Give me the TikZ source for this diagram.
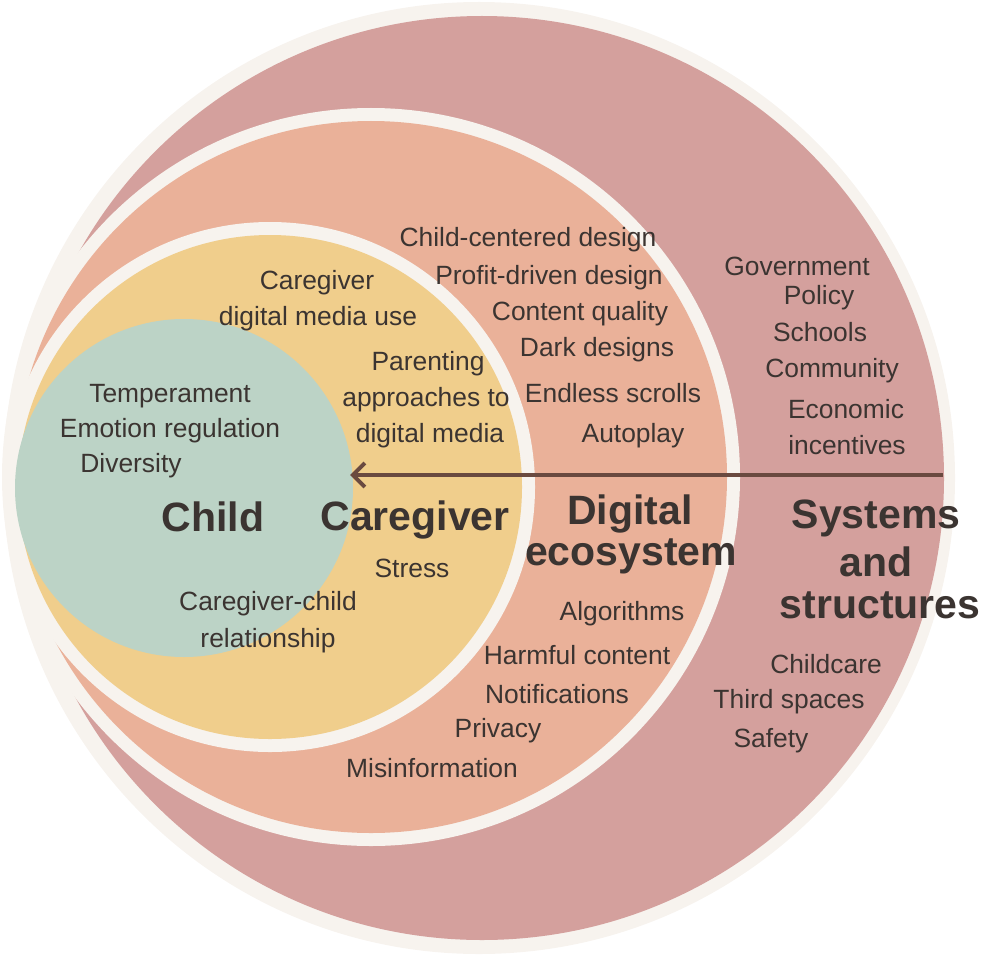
\documentclass[tikz,border=0pt]{standalone}
\usepackage{fontspec}
\setmainfont{Liberation Sans}
\usetikzlibrary{arrows.meta}

\definecolor{cream}{HTML}{F7F3EE}
\definecolor{sysfill}{HTML}{D4A09D}
\definecolor{digfill}{HTML}{EAB199}
\definecolor{carefill}{HTML}{F0CE8C}
\definecolor{childfill}{HTML}{BCD3C6}
\definecolor{ink}{HTML}{3B3431}
\definecolor{arrowbrown}{HTML}{6A4A40}

\begin{document}
\begin{tikzpicture}[x=0.5pt, y=-0.5pt,
	every node/.style = {text=ink, inner sep=0pt},
	item/.style = {font=\fontsize{13.2}{16}\selectfont},
	head/.style = {font=\fontsize{20.5}{22}\selectfont\bfseries}]
		\useasboundingbox (0,0) rectangle (983,957);
		% rings, outer to inner
		\fill[cream] (479,478) circle (476);
		\fill[sysfill] (482,478) circle (462);
		\fill[cream] (371,477) circle (369);
		\fill[digfill] (371,477) circle (356);
		\fill[cream] (270,487) circle (265);
		\fill[carefill] (270,487) circle (252);
		\fill[childfill] (184,488) circle (169);
		
		% labels
		\node[head] (child) at (213,517) {Child};
		\node[head] (care) at (415,520) {Caregiver};
		\node[head] (dig1) at (630,514) {Digital};
		\node[head] (dig2) at (631,556) {ecosystem};
		\node[head] (sys1) at (876,518) {Systems};
		\node[head] (sys2) at (876,562) {and};
		\node[head] (sys3) at (880,605) {structures};
		
		% child
		\node[item] (temp) at (170,396) {Temperament};
		\node[item] (emo) at (170,431) {Emotion regulation};
		\node[item] (div) at (131,466) {Diversity};
		
		% caregiver
		\node[item] (cg1) at (317,283) {Caregiver};
		\node[item] (cg2) at (318,319) {digital media use};
		\node[item] (par1) at (428,364) {Parenting};
		\node[item] (par2) at (426,400) {approaches to};
		\node[item] (par3) at (430,436) {digital media};
		\node[item] (stress) at (412,568) {Stress};
		\node[item] (rel1) at (268,604) {Caregiver-child};
		\node[item] (rel2) at (268,641) {relationship};
		
		% digital ecosystem
		\node[item] (ccd) at (528,240) {Child-centered design};
		\node[item] (pdd) at (549,278) {Profit-driven design};
		\node[item] (cq) at (580,314) {Content quality};
		\node[item] (dd) at (597,350) {Dark designs};
		\node[item] (es) at (613,393) {Endless scrolls};
		\node[item] (ap) at (633,436) {Autoplay};
		\node[item] (alg) at (622,614) {Algorithms};
		\node[item] (hc) at (577,655) {Harmful content};
		\node[item] (notif) at (557,694) {Notifications};
		\node[item] (priv) at (498,731) {Privacy};
		\node[item] (misinf) at (432,768) {Misinformation};
		
		% systems and structures
		\node[item] (gov) at (797,266) {Government};
		\node[item] (pol) at (819,298) {Policy};
		\node[item] (sch) at (820,332) {Schools};
		\node[item] (com) at (832,371) {Community};
		\node[item] (eco1) at (846,409) {Economic};
		\node[item] (eco2) at (847,445) {incentives};
		\node[item] (cc) at (826,664) {Childcare};
		\node[item] (ts) at (789,702) {Third spaces};
		\node[item] (saf) at (771,741) {Safety};
		
		% influence arrow
		\coordinate (from) at (943,475);
		\coordinate (to) at (350,475);
		\draw[arrowbrown, line width=2pt, -{Straight Barb[length=6pt, width=12pt, line width=2pt]}] (from) -- (to);
		
		\end{tikzpicture}
\end{document}
